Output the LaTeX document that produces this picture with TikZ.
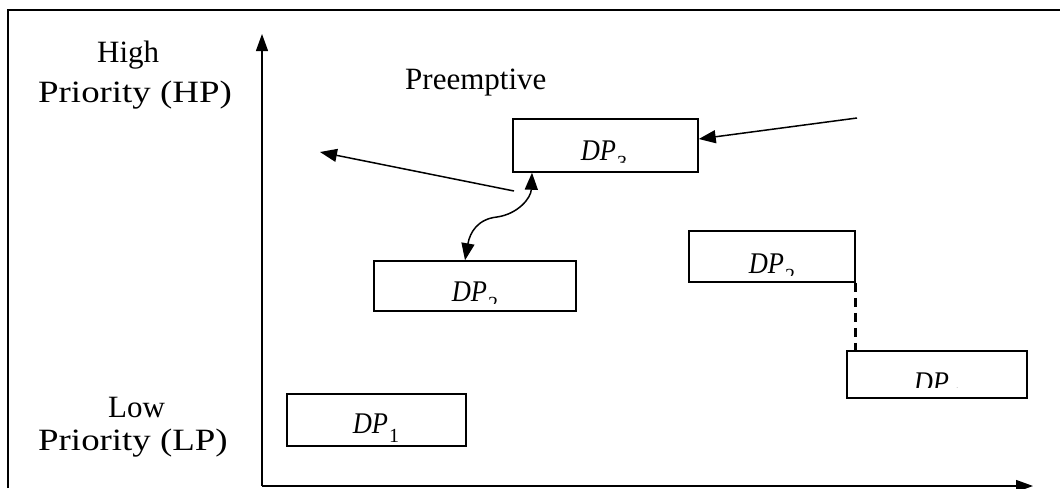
\documentclass[tikz,border=0pt]{standalone}
\usepackage{fontspec}
\usepackage{graphicx}
\setmainfont{Liberation Serif}
\usetikzlibrary{arrows.meta}
\newcommand{\dpl}[1]{\scalebox{0.88}[1]{\fontsize{30}{34}\selectfont\itshape DP}\kern1pt\raisebox{-9pt}{\fontsize{20}{22}\selectfont #1}}
\begin{document}
\begin{tikzpicture}[x=1pt,y=-1pt,
  lbl/.style={font=\fontsize{31}{36}\selectfont, inner sep=0pt, anchor=base west},
  dpbox/.style={draw, line width=1.5pt, rectangle, inner sep=0pt},
  dptext/.style={inner sep=0pt, anchor=base},
  arr/.style={line width=1.5pt, -{Triangle[length=17pt,width=13pt]}},
  darr/.style={line width=1.5pt, {Triangle[length=17pt,width=13pt]}-{Triangle[length=17pt,width=13pt]}},
  axis/.style={line width=1.3pt, -{Triangle[length=17pt,width=12pt]}}]
\useasboundingbox (0,0) rectangle (1060,488);
% frame
\draw[line width=1.3pt] (8,488) -- (8,10) -- (1060,10);
% axes
\coordinate (origin) at (262,486);
\coordinate (ytip) at (262,34);
\coordinate (xtip) at (1033,486);
\draw[axis] (origin) -- (ytip);
\draw[axis] (origin) -- (xtip);
% labels
\node[lbl] (high) at (97,62) {High};
\node[lbl] (hp) at (38,102) {\scalebox{1.19}[1]{Priority (HP)}};
\node[lbl] (low) at (108,417) {Low};
\node[lbl] (lp) at (38,450) {\scalebox{1.19}[1]{Priority (LP)}};
\node[lbl] (pre) at (405,89) {Preemptive};
% boxes
\node[dpbox, minimum width=185pt, minimum height=53pt] (dp3) at (605.5,145.5) {};
\node[dpbox, minimum width=202pt, minimum height=50pt] (dp2l) at (475,286) {};
\node[dpbox, minimum width=166pt, minimum height=51pt] (dp2r) at (772,256.5) {};
\node[dpbox, minimum width=180pt, minimum height=47pt] (dp4) at (937,374.5) {};
\node[dpbox, minimum width=179pt, minimum height=52pt] (dp1) at (376.5,420) {};
% clipped texts
\begin{scope}\clip (513,119) rectangle (698,162);
\node[dptext] (t3) at (604,160) {\dpl{3}};\end{scope}
\begin{scope}\clip (374,261) rectangle (576,303);
\node[dptext] (t2l) at (475,301) {\dpl{2}};\end{scope}
\begin{scope}\clip (689,231) rectangle (855,275);
\node[dptext] (t2r) at (772,273) {\dpl{2}};\end{scope}
\begin{scope}\clip (847,351) rectangle (1027,387);
\node[dptext] (t4) at (937,392) {\dpl{4}};\end{scope}
\node[dptext] (t1) at (376,433) {\dpl{1}};
% connectors
\coordinate (rin) at (857,118);
\coordinate (lout) at (320,152);
\coordinate (lstart) at (514,191);
\draw[arr] (rin) -- (dp3.east |- 0,139);
\draw[arr] (lstart) -- (lout);
\draw[darr] (dp2l.north -| 465,0) .. controls (470,232) and (478,219) .. (497,217) .. controls (518,214) and (531,198) .. (dp3.south -| 532,0);
\draw[line width=2.6pt, dash pattern=on 9pt off 6pt] (dp2r.south east) -- (dp4.north west -| dp2r.south east);
\end{tikzpicture}
\end{document}
